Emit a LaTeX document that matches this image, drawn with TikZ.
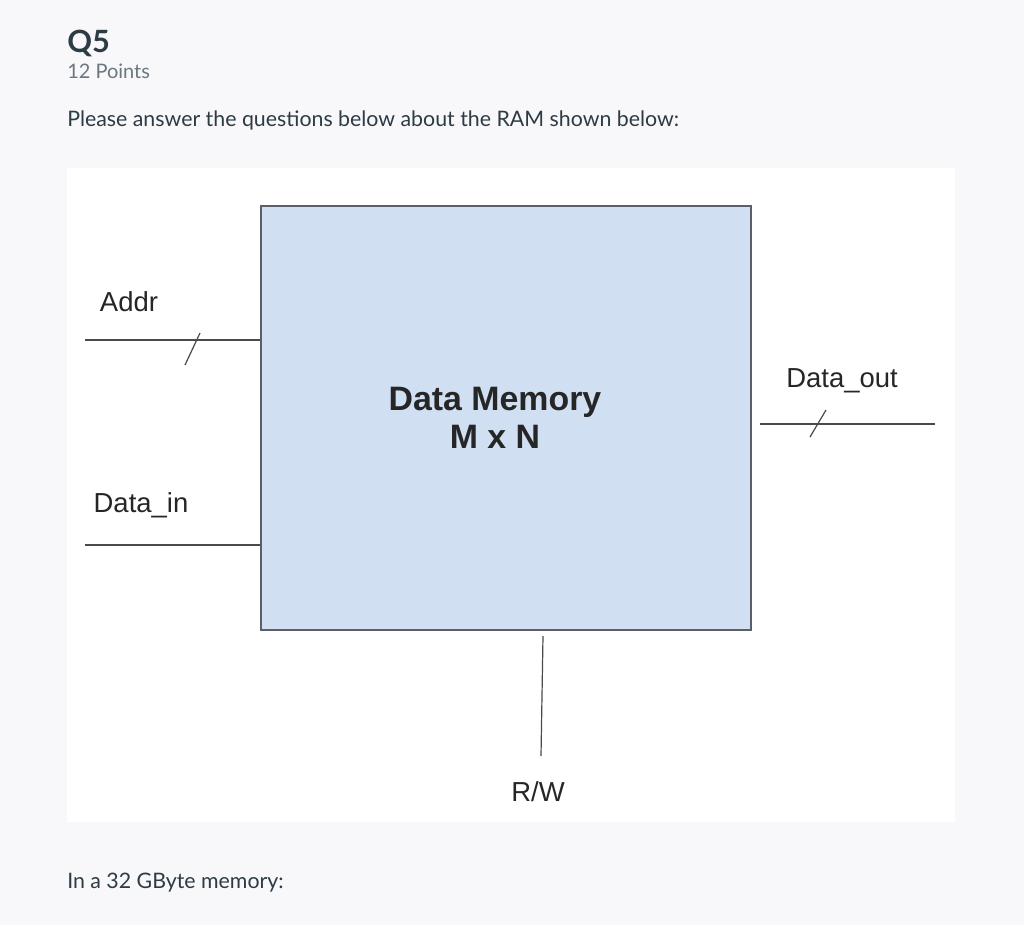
\documentclass[tikz,border=0pt]{standalone}
\usepackage{fontspec}
\setmainfont{Lato}
\newfontfamily\labelfont{Liberation Sans}
\usetikzlibrary{positioning, calc}
\definecolor{page}{HTML}{F8F8FA}
\definecolor{ink}{HTML}{2D3B45}
\definecolor{muted}{HTML}{6B7780}
\definecolor{memfill}{HTML}{D0E0F2}
\definecolor{edge}{HTML}{5A6068}
\definecolor{wire}{HTML}{4A4A4A}

\begin{document}
\begin{tikzpicture}[
  x=0.75pt, y=-0.75pt,
  txt/.style={anchor=base west, inner sep=0pt, text=ink, font=\fontsize{16}{19}\selectfont},
  lbl/.style={inner sep=0pt, text=black!85, font=\labelfont\fontsize{20.6}{24}\selectfont},
  mem/.style={draw=edge, fill=memfill, line width=1.2pt, minimum width=367.5pt, minimum height=318pt},
  memtext/.style={align=center, text=black!85, font=\labelfont\bfseries\fontsize{25.4}{29}\selectfont},
  w/.style={draw=wire, line width=0.9pt}
]
\fill[page] (0,0) rectangle (1024,925);
\useasboundingbox (0,0) rectangle (1024,925);

% header
\node[txt, font=\bfseries\fontsize{23}{26}\selectfont] (q) at (67,52) {Q5};
\node[txt, text=muted, font=\fontsize{15}{18}\selectfont] (pts) at (67,78) {12 Points};
\node[txt] (ask) at (67,126) {Please answer the questions below about the RAM shown below:};

% figure panel
\fill[white] (67,168) rectangle (955,822);
\node[mem] (mem) at (506,418) {};
\node[memtext] (memlbl) at (495,418) {Data Memory\\M x N};

% inputs
\coordinate (addrL) at (85,340);
\coordinate (addrS) at (197,340);
\draw[w] (addrL) -- (addrL -| mem.west);
\draw[w] ([shift={(-12,25)}]addrS) -- ([shift={(3,-7)}]addrS);
\node[lbl] (addr) at (129,302) {Addr};

\coordinate (dinL) at (85,545);
\draw[w] (dinL) -- (dinL -| mem.west);
\node[lbl] (din) at (141,505) {Data\_in};

% output
\coordinate (doutL) at (760,424);
\coordinate (doutR) at (935,424);
\coordinate (doutS) at (818,424);
\draw[w] (doutL) -- (doutR);
\draw[w] ([shift={(-8,13)}]doutS) -- ([shift={(8,-14)}]doutS);
\node[lbl] (dout) at (842,381) {Data\_out};

% control
\coordinate (rwT) at (543,636);
\coordinate (rwB) at (541,756);
\draw[w] (rwT) -- (rwB);
\node[lbl] (rw) at (538,792) {R/W};

\node[txt] (foot) at (67,888) {In a 32 GByte memory:};
\end{tikzpicture}
\end{document}
